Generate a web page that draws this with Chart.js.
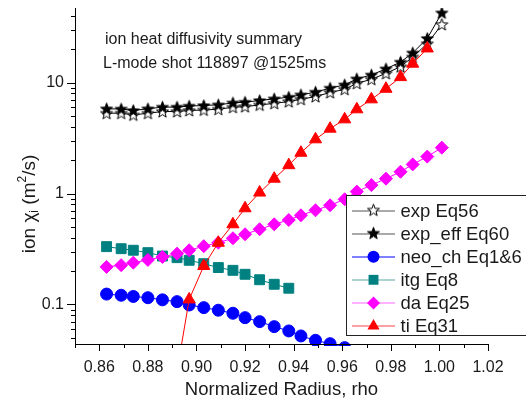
<!DOCTYPE html>
<html>
<head>
<meta charset="utf-8">
<title>ion heat diffusivity summary</title>
<script src="https://cdn.jsdelivr.net/npm/chart.js@4.4.1/dist/chart.umd.min.js"></script>
<style>
  html, body { margin: 0; padding: 0; background: #fff; }
  canvas { display: block; }
</style>
</head>
<body>
<canvas id="myChart" width="526" height="405"></canvas>
<script>

// normalized radius of every profile point
const rho = [0.863, 0.869, 0.874, 0.880, 0.886, 0.892, 0.897, 0.903, 0.909, 0.915, 0.920, 0.926, 0.932,
             0.938, 0.943, 0.949, 0.955, 0.961, 0.966, 0.972, 0.978, 0.984, 0.989, 0.995, 1.001];

// ion chi_i (m^2/s) per model, null where the model has no point
const expEq56 = [5.29, 5.30, 5.11, 5.29, 5.48, 5.48, 5.60, 5.66, 5.75, 5.99, 6.07, 6.28, 6.50,
                 6.74, 7.07, 7.48, 8.13, 8.70, 9.84, 10.7, 12.1, 13.9, 17.0, 22.4, 33.4];
const expEffEq60 = [5.80, 5.78, 5.60, 5.80, 6.01, 6.01, 6.14, 6.21, 6.30, 6.56, 6.66, 6.89, 7.13,
                    7.39, 7.75, 8.20, 8.91, 9.54, 10.8, 11.7, 13.3, 15.3, 18.5, 25.0, 42.5];
const neoChEq16 = [0.124, 0.121, 0.118, 0.115, 0.110, 0.106, 0.0989, 0.0936, 0.0887, 0.0833, 0.0760, 0.0700, 0.0631,
                   0.0577, 0.0520, 0.0475, 0.0443, 0.0408, null, null, null, null, null, null, null];
const itgEq8 = [0.332, 0.318, 0.308, 0.293, 0.273, 0.264, 0.250, 0.233, 0.215, 0.203, 0.187, 0.167, 0.152,
                0.140, null, null, null, null, null, null, null, null, null, null, null];
const daEq25 = [0.218, 0.226, 0.238, 0.252, 0.268, 0.287, 0.308, 0.335, 0.360, 0.395, 0.429, 0.476, 0.528,
                0.577, 0.636, 0.706, 0.783, 0.887, 1.04, 1.19, 1.36, 1.57, 1.83, 2.15, 2.59];
const tiEq31 = [null, null, null, null, null, 0.025, 0.111, 0.222, 0.360, 0.528, 0.736, 1.02, 1.36,
                1.80, 2.33, 3.08, 3.84, 4.66, 5.74, 7.06, 8.79, 11.2, 14.8, 20.3, null];

const seriesNames = ['exp Eq56', 'exp_eff Eq60', 'neo_ch Eq1&6', 'itg Eq8', 'da Eq25', 'ti Eq31'];
const xTicks = [0.86, 0.88, 0.90, 0.92, 0.94, 0.96, 0.98, 1.00, 1.02];
const yTicks = [0.1, 1, 10];
const noteLines = ['ion heat diffusivity summary', 'L-mode shot 118897 @1525ms'];

const FONT = '"Liberation Sans", Arial, Helvetica, sans-serif';
const INK = '#1a1a1a';

function toPoints(values) {
    return rho.map((r, i) => ({ x: r, y: values[i] }));
}

// 5 pointed star marker, open or filled
function starImage(filled) {
    const c = document.createElement('canvas');
    c.width = 15;
    c.height = 15;
    const g = c.getContext('2d');
    g.beginPath();
    for (let k = 0; k < 10; k++) {
        const r = k % 2 ? 2.6 : 6.3;
        const ang = -Math.PI / 2 + k * Math.PI / 5;
        const px = 7.5 + r * Math.cos(ang);
        const py = 8 + r * Math.sin(ang);
        if (k) g.lineTo(px, py); else g.moveTo(px, py);
    }
    g.closePath();
    g.fillStyle = filled ? '#000' : '#fff';
    g.fill();
    g.lineWidth = 1;
    g.strokeStyle = '#000';
    g.stroke();
    return c;
}

const openStar = starImage(false);
const fullStar = starImage(true);

const styles = [
    { color: '#000000', legendLine: '#555555', point: openStar, radius: 6 },
    { color: '#000000', legendLine: '#555555', point: fullStar, radius: 6 },
    { color: '#0000ff', legendLine: '#0000ff', point: 'circle', radius: 6 },
    { color: '#008080', legendLine: '#5aa8a8', point: 'rect', radius: 7 },
    { color: '#ff00ff', legendLine: '#ff66ff', point: 'rectRot', radius: 6.5 },
    { color: '#ff0000', legendLine: '#ff4444', point: 'triangle', radius: 7 }
];

const seriesValues = [expEq56, expEffEq60, neoChEq16, itgEq8, daEq25, tiEq31];

const datasets = seriesValues.map((vals, i) => ({
    label: seriesNames[i],
    data: toPoints(vals),
    borderColor: styles[i].color,
    backgroundColor: styles[i].color,
    borderWidth: 1,
    pointStyle: styles[i].point,
    pointRadius: styles[i].radius,
    pointBorderWidth: 1,
    pointBorderColor: styles[i].color,
    pointBackgroundColor: styles[i].color,
    tension: 0,
    spanGaps: false,
    order: 5 - i,
    clip: i === 2 ? { left: 0, top: 0, right: 0, bottom: 2 } : 0
}));

function drawMarker(g, style, cx, cy, r, color) {
    g.fillStyle = color;
    g.beginPath();
    if (style === 'circle') {
        g.arc(cx, cy, r, 0, Math.PI * 2);
    } else if (style === 'rect') {
        const s = r * Math.SQRT1_2;
        g.rect(cx - s, cy - s, 2 * s, 2 * s);
    } else if (style === 'rectRot') {
        g.moveTo(cx, cy - r); g.lineTo(cx + r, cy); g.lineTo(cx, cy + r); g.lineTo(cx - r, cy);
        g.closePath();
    } else if (style === 'triangle') {
        g.moveTo(cx, cy - r);
        g.lineTo(cx + r * Math.sin(2 * Math.PI / 3), cy - r * Math.cos(2 * Math.PI / 3));
        g.lineTo(cx + r * Math.sin(4 * Math.PI / 3), cy - r * Math.cos(4 * Math.PI / 3));
        g.closePath();
    }
    g.fill();
}

// keep the scales from pushing the plot area in
function noScalePadding(s) {
    s.paddingTop = 0;
    s.paddingBottom = 0;
    s.paddingLeft = 0;
    s.paddingRight = 0;
}

// axes, tick marks, titles, note and legend
const decor = {
    id: 'decor',
    afterDraw(chart) {
        const { ctx, chartArea: a, scales: { x, y } } = chart;
        ctx.save();
        ctx.strokeStyle = '#000';
        ctx.lineWidth = 1;

        ctx.beginPath();
        ctx.moveTo(a.left + 0.5, a.top);
        ctx.lineTo(a.left + 0.5, a.bottom + 0.5);
        ctx.lineTo(a.right + 1, a.bottom + 0.5);
        ctx.stroke();

        // x ticks, majors labelled, minors between
        ctx.beginPath();
        xTicks.forEach(v => {
            const px = Math.round(x.getPixelForValue(v)) + 0.5;
            ctx.moveTo(px, a.bottom);
            ctx.lineTo(px, a.bottom + 7);
        });
        [xTicks[0] - 0.01].concat(xTicks.slice(0, -1).map(v => v + 0.01)).forEach(v => {
            const px = Math.round(x.getPixelForValue(v)) + 0.5;
            ctx.moveTo(px, a.bottom);
            ctx.lineTo(px, a.bottom + 4);
        });
        // y ticks, decades long, 2..9 short
        yTicks.forEach(v => {
            const py = Math.round(y.getPixelForValue(v)) + 0.5;
            ctx.moveTo(a.left, py);
            ctx.lineTo(a.left - 8, py);
        });
        for (let d = -2; d <= 1; d++) {
            for (let m = 2; m <= 9; m++) {
                const v = m * Math.pow(10, d);
                if (v < y.min || v > y.max) continue;
                const py = Math.round(y.getPixelForValue(v)) + 0.5;
                ctx.moveTo(a.left, py);
                ctx.lineTo(a.left - 4, py);
            }
        }
        ctx.stroke();

        ctx.fillStyle = INK;
        ctx.textBaseline = 'middle';

        // x title
        ctx.font = '18.5px ' + FONT;
        ctx.textAlign = 'center';
        ctx.fillText('Normalized Radius, rho', (a.left + a.right) / 2, 390);

        // y title with sub and superscript
        ctx.save();
        ctx.translate(30, 204);
        ctx.rotate(-Math.PI / 2);
        ctx.textAlign = 'left';
        const big = '19px ' + FONT;
        const small = '12px ' + FONT;
        const parts = [
            { t: 'ion \u03c7', f: big, dy: 0 },
            { t: 'i', f: small, dy: 5 },
            { t: ' (m', f: big, dy: 0 },
            { t: '2', f: small, dy: -7 },
            { t: '/s)', f: big, dy: 0 }
        ];
        let total = 0;
        parts.forEach(p => { ctx.font = p.f; p.w = ctx.measureText(p.t).width; total += p.w; });
        let cx = -total / 2;
        parts.forEach(p => { ctx.font = p.f; ctx.fillText(p.t, cx, p.dy); cx += p.w; });
        ctx.restore();

        // note
        ctx.font = '16px ' + FONT;
        ctx.textAlign = 'left';
        ctx.fillText(noteLines[0], 105, 40);
        ctx.fillText(noteLines[1], 103, 64);

        // legend box
        ctx.fillStyle = '#fff';
        ctx.fillRect(346, 195, 190, 140);
        ctx.strokeStyle = '#222';
        ctx.strokeRect(346.5, 195.5, 190, 140);
        ctx.font = '18.5px ' + FONT;
        seriesNames.forEach((name, i) => {
            const ry = 210.5 + i * 23.1;
            const st = styles[i];
            ctx.strokeStyle = st.legendLine;
            ctx.lineWidth = 1.2;
            ctx.beginPath();
            ctx.moveTo(352, Math.round(ry));
            ctx.lineTo(395, Math.round(ry));
            ctx.stroke();
            if (typeof st.point === 'string') {
                drawMarker(ctx, st.point, 373.5, ry, st.radius, st.color);
            } else {
                ctx.drawImage(st.point, 373.5 - 7.5, ry - 8);
            }
            ctx.fillStyle = INK;
            ctx.fillText(name, 400.5, ry + 1);
        });
        ctx.restore();
    }
};

const ctx = document.getElementById('myChart').getContext('2d');
const myChart = new Chart(ctx, {
    type: 'line',
    data: { datasets: datasets },
    options: {
        responsive: false,
        animation: false,
        events: [],
        layout: { autoPadding: false, padding: { left: 0, right: 38, top: 8, bottom: 0 } },
        plugins: {
            legend: { display: false },
            tooltip: { enabled: false }
        },
        scales: {
            x: {
                type: 'linear',
                min: 0.85,
                max: 1.02,
                afterFit: s => { s.height = 61; noScalePadding(s); },
                afterBuildTicks: s => { s.ticks = xTicks.map(v => ({ value: v })); },
                grid: { display: false, drawTicks: false },
                border: { display: false },
                ticks: {
                    autoSkip: false,
                    maxRotation: 0,
                    padding: 14,
                    color: INK,
                    font: { family: FONT, size: 16 },
                    callback: v => Number(v).toFixed(2)
                }
            },
            y: {
                type: 'logarithmic',
                min: 0.044,
                max: 47,
                afterFit: s => { s.width = 75; noScalePadding(s); },
                afterBuildTicks: s => { s.ticks = yTicks.map(v => ({ value: v })); },
                grid: { display: false, drawTicks: false },
                border: { display: false },
                ticks: {
                    autoSkip: false,
                    padding: 11,
                    color: INK,
                    font: { family: FONT, size: 16 },
                    callback: v => String(v)
                }
            }
        }
    },
    plugins: [decor]
});
</script>
</body>
</html>
